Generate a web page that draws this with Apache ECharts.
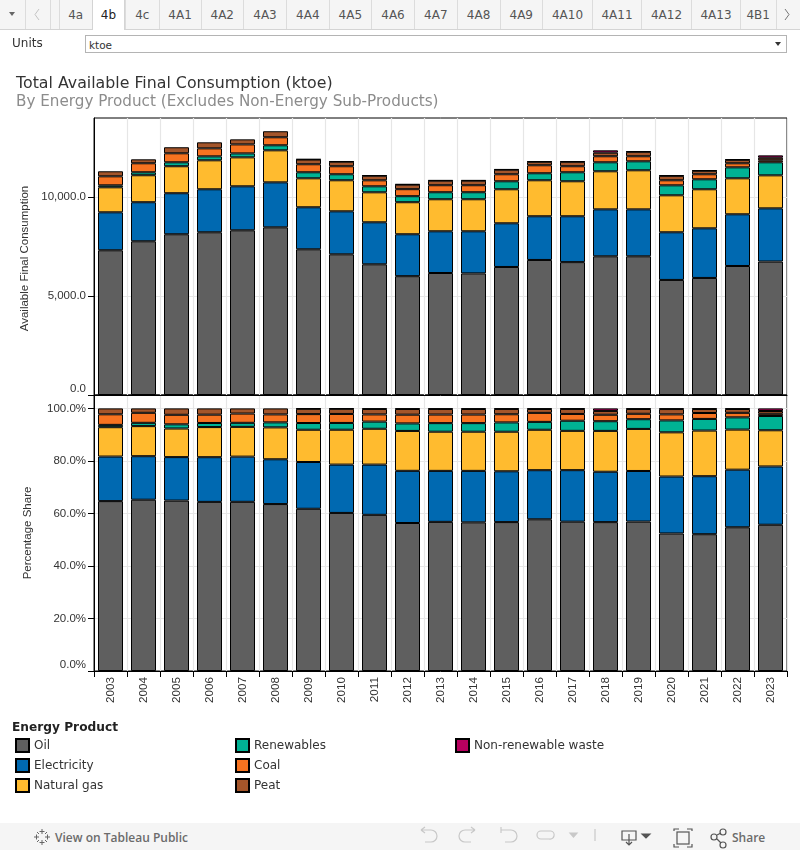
<!DOCTYPE html>
<html><head><meta charset="utf-8">
<style>
html,body{margin:0;padding:0;background:#fff;width:800px;height:850px;overflow:hidden;font-family:"DejaVu Sans",sans-serif}
#chart{position:absolute;left:0;top:0;width:800px;height:850px}
.ab{position:absolute;white-space:nowrap}
#tabs{position:absolute;left:0;top:0;width:800px;height:29px;background:#f5f5f5;border-bottom:1px solid #d4d4d4;box-sizing:content-box}
.tab{position:absolute;top:0;height:29px;line-height:30px;text-align:center;font-size:12px;color:#555;border-left:1px solid #dcdcdc;box-sizing:border-box}
.tab.on{background:#fff;color:#222;height:30px;border-left:1px solid #d4d4d4;border-right:1px solid #d4d4d4}
#foot{position:absolute;left:0;top:823px;width:800px;height:27px;background:#f5f5f5}
</style></head><body>
<div id="chart"></div>
<div id="tabs"></div>
<svg class="ab" style="left:0;top:0" width="800" height="29" viewBox="0 0 800 29" fill="none">
<path d="M9 12h6l-3 4z" fill="#666"/>
<path d="M39 9l-4 5.500 4 5.500" stroke="#c4c4c4"/>
<path d="M785 9l4 5.500-4 5.500" stroke="#777"/>
</svg>
<div class="ab" style="left:12px;top:36px;font-size:12px;color:#333">Units</div>
<div class="ab" style="left:85px;top:35px;width:702px;height:18px;box-sizing:border-box;border:1px solid #b4b4b4;background:#fff;font-size:10.5px;color:#333;line-height:18px;padding-left:3px">ktoe</div>
<div class="ab" style="left:775px;top:42px;width:0;height:0;border-left:3px solid transparent;border-right:3px solid transparent;border-top:4px solid #333"></div>
<div id="foot">
<svg class="ab" style="left:33px;top:5px" width="18" height="18" viewBox="0 0 18 18" stroke="#666" stroke-width="1" fill="none"><path d="M9 1v5M6.500 3.500h5M9 12v5M6.500 14.500h5M1 9h5M3.500 6.500v5M12 9h5M14.500 6.500v5M4 4l2 2M14 4l-2 2M4 14l2-2M14 14l-2-2"/></svg>
<div class="ab" style="left:55px;top:6px;font-size:12px;color:#6b6b6b;font-family:'Open Sans',sans-serif;font-weight:600">View on Tableau Public</div>
<svg class="ab" style="left:415px;top:0" width="385" height="27" viewBox="415 823 385 27" fill="none" stroke="#c8c8c8" stroke-width="1.2">
<path d="M421 830h10a6 6 0 0 1 0 12h-6M421 830l4-3M421 830l4 3"/>
<path d="M475 830h-10a6 6 0 0 0 0 12h6M475 830l-4-3M475 830l-4 3"/>
<path d="M501 830h10a6 6 0 0 1 0 12h-6M501 827v6"/>
<path d="M551 831h-10a4 4 0 0 0 0 8h8a4 4 0 0 0 2-8"/>
<path d="M570 833h7l-3.500 4z" fill="#c8c8c8"/>
<path d="M595 829v12"/>
<g stroke="#555"><path d="M622 831h14v9h-14zM629 834v11M626 842l3 3 3-3"/><path d="M642 834h8l-4 4z" fill="#555"/>
<path d="M674 831v-2h5M687 829h5v2M674 844v3h5M687 847h5v-3"/><rect x="677" y="832" width="12" height="12"/>
<circle cx="714" cy="837" r="3"/><circle cx="723" cy="832" r="3"/><circle cx="723" cy="845" r="3"/><path d="M717 835l4-2M717 839l4 4"/></g>
</svg>
<div class="ab" style="left:732px;top:6px;font-size:12px;color:#6b6b6b;font-family:'Open Sans',sans-serif;font-weight:600">Share</div>
</div>
<script src="https://cdn.jsdelivr.net/npm/echarts@6/dist/echarts.min.js"></script>
<script>
var years=['2003','2004','2005','2006','2007','2008','2009','2010','2011','2012','2013','2014','2015','2016','2017','2018','2019','2020','2021','2022','2023'];
var oil=[7320,7775,8130,8230,8330,8480,7370,7115,6610,6010,6170,6150,6475,6830,6720,7015,7015,5820,5920,6525,6750];
var electricity=[1920,1975,2075,2175,2225,2275,2125,2175,2125,2120,2110,2130,2210,2210,2320,2375,2375,2410,2510,2615,2690];
var naturalGas=[1265,1365,1365,1465,1465,1620,1465,1570,1517,1620,1620,1620,1720,1820,1770,1925,1975,1870,1975,1820,1670];
var renewables=[100,150,200,200,200,255,305,305,303,305,355,355,405,355,455,455,455,505,505,555,660];
var coal=[455,455,455,405,455,405,405,405,304,355,355,355,355,405,305,305,255,255,255,205,100];
var peat=[255,200,305,305,255,305,240,230,230,230,230,230,230,175,225,180,225,225,175,175,130];
var nonRenewableWaste=[null,null,null,null,null,null,20,20,25,25,25,25,25,27,25,120,28,28,25,27,120];
var productNames=['Oil','Electricity','Natural gas','Renewables','Coal','Peat','Non-renewable waste'];
var productColors=['#5f5f5f','#0069b1','#ffbb2f','#00b294','#f77320','#a4552a','#b8005f'];
var productValues=[oil,electricity,naturalGas,renewables,coal,peat,nonRenewableWaste];
var tabLabels=['4a','4b','4c','4A1','4A2','4A3','4A4','4A5','4A6','4A7','4A8','4A9','4A10','4A11','4A12','4A13','4B1'];
var tabEdges=[58.7,91.8,125,158.7,200.5,243,286,328.6,371,414,456.6,499.5,542,592,641,691,740,775.5];

var tabs=document.getElementById('tabs');
function addTab(l,w,t,c){var d=document.createElement('div');d.className='tab'+(c||'');d.style.left=l+'px';d.style.width=w+'px';d.textContent=t;tabs.appendChild(d);}
addTab(24.5,25,'');addTab(49.5,9.2,'');
tabLabels.forEach(function(t,i){addTab(tabEdges[i],tabEdges[i+1]-tabEdges[i],t,t==='4b'?' on':'');});
addTab(775.5,24.5,'');

var totals=years.map(function(_,i){return productValues.reduce(function(s,a){return s+(a[i]||0);},0);});
var border={borderColor:'#000',borderWidth:1};
var series=[];
productNames.forEach(function(n,k){
  series.push({name:n,type:'bar',stack:'abs',xAxisIndex:0,yAxisIndex:0,barWidth:25,data:productValues[k],
    itemStyle:Object.assign({color:productColors[k]},border)});
});
productNames.forEach(function(n,k){
  series.push({name:n,type:'bar',stack:'pct',xAxisIndex:1,yAxisIndex:1,barWidth:25,
    data:productValues[k].map(function(v,i){return v===null?null:v/totals[i]*100;}),
    itemStyle:Object.assign({color:productColors[k]},border)});
});
var axisFont='"Liberation Sans",Arial,sans-serif';
var grid={color:'#e6e6e6',width:1.2};
function yAxis(gi,max,ticks,fmt,name,gap,namePad){
  return {type:'value',gridIndex:gi,min:0,max:max,name:name,nameLocation:'middle',nameGap:gap,
    nameTextStyle:{fontFamily:axisFont,fontSize:11.5,color:'#333',padding:namePad},
    axisLine:{show:true,lineStyle:{color:'#000'}},
    axisTick:{show:true,length:6,lineStyle:{color:'#000'},customValues:ticks},
    axisLabel:{customValues:ticks,formatter:fmt,fontFamily:axisFont,fontSize:11.5,color:'#333',margin:8,verticalAlignMinLabel:'bottom'},
    splitLine:{show:true,lineStyle:grid}};
}
var option={animation:false,
 title:[
  {text:'Total Available Final Consumption (ktoe)',left:16,top:76,padding:0,textStyle:{fontFamily:'"DejaVu Sans"',fontSize:15.8,fontWeight:'normal',color:'#333'}},
  {text:'By Energy Product (Excludes Non-Energy Sub-Products)',left:16,top:95,padding:0,textStyle:{fontFamily:'"DejaVu Sans"',fontSize:15.2,fontWeight:'normal',color:'#8c8c8c'}},
  {text:'Energy Product',left:12,top:722,padding:0,textStyle:{fontFamily:'"DejaVu Sans"',fontSize:12.2,fontWeight:'bold',color:'#222'}}
 ],
 grid:[
  {left:94,top:118,width:693,height:277,show:true,borderColor:'#000',borderWidth:1,backgroundColor:'transparent'},
  {left:94,top:395,width:693,height:276,show:true,borderColor:'#000',borderWidth:1,backgroundColor:'transparent'}
 ],
 legend:[[0,3,15],[3,6,235],[6,7,455]].map(function(c){
   return {orient:'vertical',left:c[2],top:738,padding:0,itemWidth:13,itemHeight:13,itemGap:5,selectedMode:false,icon:'rect',
     data:productNames.slice(c[0],c[1]),
     textStyle:{fontFamily:'"DejaVu Sans"',fontSize:12,color:'#333'}};
 }),
 xAxis:[
  {type:'category',gridIndex:0,data:years,axisLabel:{show:false},axisTick:{show:false},axisLine:{lineStyle:{color:'#000'}},splitLine:{show:true,interval:0,lineStyle:grid}},
  {type:'category',gridIndex:1,data:years,axisLabel:{rotate:90,fontFamily:axisFont,fontSize:11.7,color:'#333',margin:6,interval:0},
   axisTick:{show:true,length:6,lineStyle:{color:'#000'}},axisLine:{lineStyle:{color:'#000'}},splitLine:{show:true,interval:0,lineStyle:grid}}
 ],
 yAxis:[
  yAxis(0,14010,[0,5000,10000],function(v){return v===10000?'10,000.0':v===5000?'5,000.0':'0.0';},'Available Final Consumption',60,[0,4,0,0]),
  yAxis(1,105.1,[0,20,40,60,80,100],function(v){return v.toFixed(1)+'%';},'Percentage Share',60,0)
 ],
 series:series};
echarts.init(document.getElementById('chart'),null,{renderer:'canvas'}).setOption(option);
</script></body></html>
